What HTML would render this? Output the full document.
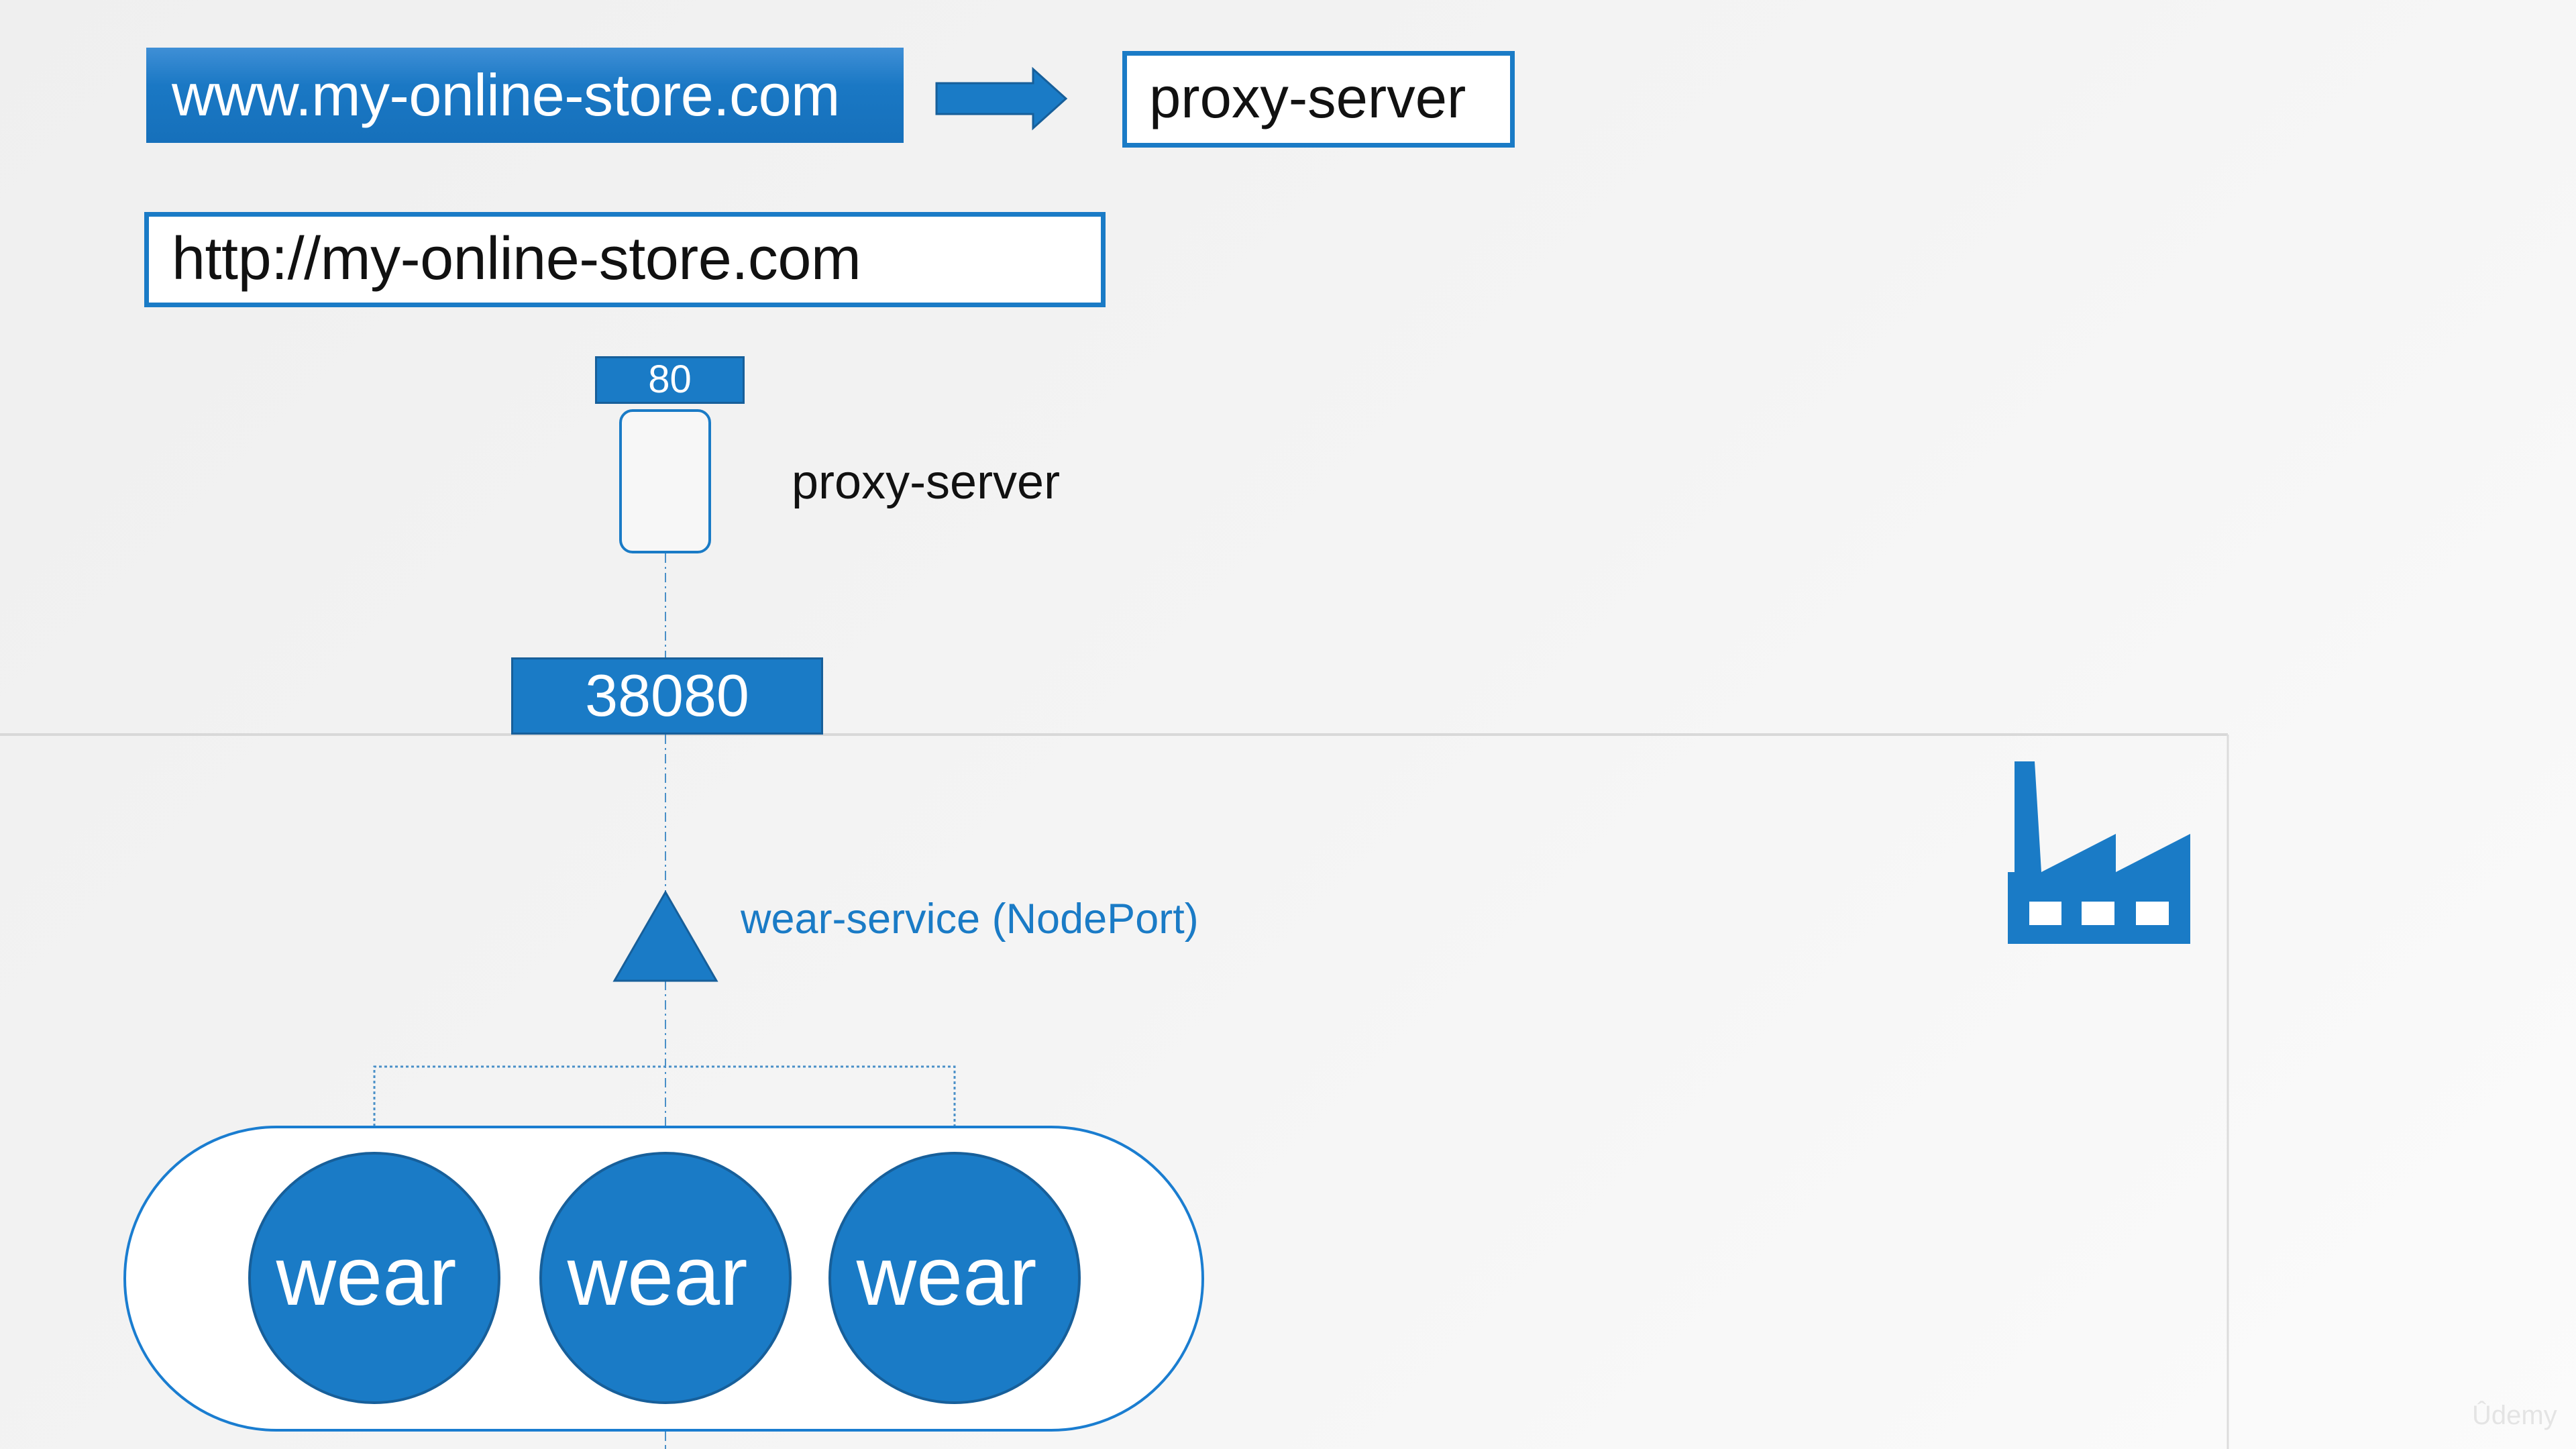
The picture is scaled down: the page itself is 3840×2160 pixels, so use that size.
<!DOCTYPE html>
<html><head><meta charset="utf-8"><style>
html,body{margin:0;padding:0}
body{width:3840px;height:2160px;position:relative;overflow:hidden;background:linear-gradient(135deg,#efefef 0%,#f4f4f4 50%,#fbfbfb 100%);font-family:"Liberation Sans",sans-serif}
.a{position:absolute;box-sizing:border-box}
.t{position:absolute;white-space:nowrap}
</style></head><body>
<div class="a" style="left:218px;top:71px;width:1129px;height:142px;background:linear-gradient(#3f8fd6,#1a78c4 40%,#1670bb)"></div>
<div class="t" style="left:256px;top:91px;font-size:88px;color:#fff;letter-spacing:-0.5px">www.my-online-store.com</div>
<svg class="a" style="left:0;top:0" width="3840" height="2160">
<polygon points="1396,124 1540,124 1540,103 1589,147 1540,191 1540,170 1396,170" fill="#1a7bc6" stroke="#175f9a" stroke-width="3"/>
<line x1="992" y1="825" x2="992" y2="980" stroke="#4a90c8" stroke-width="2" stroke-dasharray="14,6,3,6"/>
<line x1="0" y1="1095" x2="3321" y2="1095" stroke="#d8d8d8" stroke-width="4"/>
<line x1="3321" y1="1095" x2="3321" y2="2160" stroke="#dcdcdc" stroke-width="3"/>
<line x1="992" y1="1095" x2="992" y2="1330" stroke="#4a90c8" stroke-width="2" stroke-dasharray="14,6,3,6"/>
<line x1="992" y1="1462" x2="992" y2="1719" stroke="#4a90c8" stroke-width="2" stroke-dasharray="14,6,3,6"/>
<polyline points="558,1719 558,1590 1423,1590 1423,1719" fill="none" stroke="#4a90c8" stroke-width="3" stroke-dasharray="4,4"/>
<line x1="992" y1="2134" x2="992" y2="2160" stroke="#4a90c8" stroke-width="2" stroke-dasharray="14,6"/>
<polygon points="992,1330 1068,1462 916,1462" fill="#1a7bc6" stroke="#175f9a" stroke-width="3"/>
<rect x="186" y="1680" width="1607" height="452" rx="226" fill="#fff" stroke="#1a7dd0" stroke-width="4"/>
<g fill="#1a7bc6" stroke="#175f9a" stroke-width="4">
<circle cx="558" cy="1905" r="186"/><circle cx="992" cy="1905" r="186"/><circle cx="1423" cy="1905" r="186"/></g>
<path d="M2993,1407 L2993,1300 L3003,1300 L3003,1135 L3033,1135 L3043,1300 L3154,1243 L3154,1300 L3265,1243 L3265,1407 Z" fill="#1a7bc6"/>
<g fill="#fff"><rect x="3025" y="1344" width="48" height="35"/><rect x="3103" y="1344" width="49" height="35"/><rect x="3184" y="1344" width="49" height="35"/></g>
</svg>
<div class="a" style="left:1673px;top:76px;width:585px;height:144px;background:#fff;border:7px solid #1a7bc6"></div>
<div class="t" style="left:1713px;top:98px;font-size:85px;color:#111">proxy-server</div>
<div class="a" style="left:215px;top:316px;width:1433px;height:142px;background:#fff;border:7px solid #1a7bc6"></div>
<div class="t" style="left:256px;top:335px;font-size:90px;color:#111;letter-spacing:-0.5px">http://my-online-store.com</div>
<div class="a" style="left:887px;top:531px;width:223px;height:71px;background:#1a7bc6;border:3px solid #175f9a;color:#fff;font-size:58px;text-align:center;line-height:64px">80</div>
<div class="a" style="left:923px;top:610px;width:137px;height:215px;border:4px solid #1a7bc6;border-radius:20px;background:#f7f7f7"></div>
<div class="t" style="left:1180px;top:678px;font-size:72px;color:#111">proxy-server</div>
<div class="a" style="left:762px;top:980px;width:465px;height:115px;background:#1a7bc6;border:3px solid #175f9a;color:#fff;font-size:88px;text-align:center;line-height:108px">38080</div>
<div class="t" style="left:1104px;top:1334px;font-size:63px;color:#1a7bc6">wear-service (NodePort)</div>
<div class="t" style="left:360px;top:1832px;width:372px;text-align:center;font-size:124px;color:#fff">wear</div>
<div class="t" style="left:794px;top:1832px;width:372px;text-align:center;font-size:124px;color:#fff">wear</div>
<div class="t" style="left:1225px;top:1832px;width:372px;text-align:center;font-size:124px;color:#fff">wear</div>
<div class="t" style="left:3685px;top:2088px;font-size:40px;color:#e4e4e4">Ûdemy</div>
</body></html>
